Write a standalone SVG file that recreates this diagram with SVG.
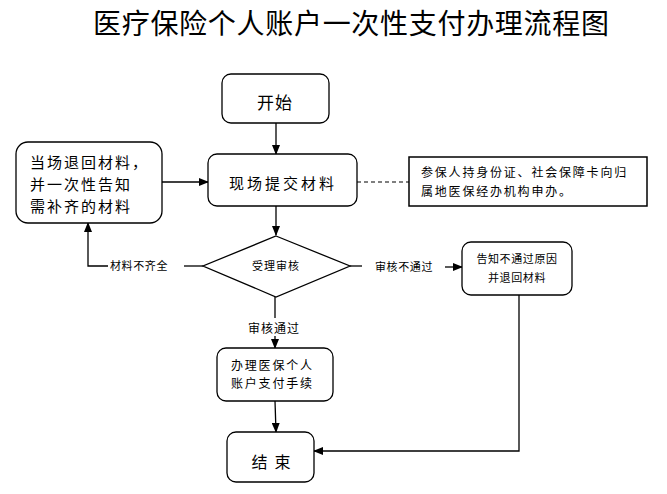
<svg xmlns="http://www.w3.org/2000/svg" width="667" height="494" viewBox="0 0 667 494">
<defs>
<marker id="arr" markerWidth="10" markerHeight="8" refX="9" refY="4" orient="auto" markerUnits="userSpaceOnUse">
<path d="M0,0 L10,4 L0,8 Z" fill="#000"/>
</marker>
<style>
.box{fill:#fff;stroke:#000;stroke-width:1.3}
.ln{fill:none;stroke:#000;stroke-width:1.3}
.dash{fill:none;stroke:#000;stroke-width:1.2;stroke-dasharray:4,3}
text{font-family:"Noto Sans CJK SC","Noto Sans",sans-serif;fill:#000}
.t15{font-size:15px;letter-spacing:2px}
.t12{font-size:12px;letter-spacing:1.8px}
.t11{font-size:11px;letter-spacing:0.6px}
</style>
</defs>
<rect width="667" height="494" fill="#fff"/>
<text x="93" y="34" font-size="28" textLength="516" lengthAdjust="spacing">医疗保险个人账户一次性支付办理流程图</text>

<g id="connectors">
<line class="ln" x1="276" y1="123" x2="276" y2="154" marker-end="url(#arr)"/>
<line class="ln" x1="276" y1="206" x2="276" y2="235" marker-end="url(#arr)"/>
<line class="ln" x1="162" y1="182" x2="208" y2="182" marker-end="url(#arr)"/>
<line class="dash" x1="357" y1="182" x2="409" y2="182"/>
<line class="ln" x1="203" y1="266" x2="184" y2="266"/>
<polyline class="ln" points="108,266 88,266 88,223" marker-end="url(#arr)"/>
<line class="ln" x1="350" y1="266" x2="362" y2="266"/>
<line class="ln" x1="445" y1="267" x2="462" y2="267" marker-end="url(#arr)"/>
<line class="ln" x1="275" y1="297" x2="275" y2="318"/>
<line class="ln" x1="275" y1="336" x2="275" y2="348" marker-end="url(#arr)"/>
<line class="ln" x1="275" y1="401" x2="276" y2="432" marker-end="url(#arr)"/>
<polyline class="ln" points="519,295 519,451 314,451" marker-end="url(#arr)"/>
<text class="t11" x="110" y="270">材料不齐全</text>
<text class="t11" x="375" y="271">审核不通过</text>
<text class="t12" x="248" y="333" style="letter-spacing:1px">审核通过</text>
</g>

<g id="start">
<rect class="box" x="222" y="74" width="107" height="49" rx="9"/>
<text x="275" y="109" font-size="17" text-anchor="middle" letter-spacing="1">开始</text>
</g>

<g id="submit">
<rect class="box" x="208" y="154" width="149" height="52" rx="9"/>
<text class="t15" x="229" y="189" style="letter-spacing:3px">现场提交材料</text>
</g>

<g id="return">
<rect class="box" x="16" y="142" width="146" height="81" rx="12"/>
<text class="t15" x="30" y="168">当场退回材料，</text>
<text class="t15" x="30" y="190">并一次性告知</text>
<text class="t15" x="30" y="212">需补齐的材料</text>
</g>

<g id="note">
<rect class="box" x="409" y="157" width="238" height="49" style="stroke-width:1.5"/>
<text class="t12" x="421" y="177">参保人持身份证、社会保障卡向归</text>
<text class="t12" x="421" y="196">属地医保经办机构申办。</text>
</g>

<g id="review">
<polygon class="box" points="276,236 350,266 276,297 203,266"/>
<text class="t11" x="276" y="270" text-anchor="middle" style="letter-spacing:1px">受理审核</text>
</g>

<g id="reject">
<rect class="box" x="462" y="242" width="110" height="53" rx="9"/>
<text class="t11" x="517" y="263" text-anchor="middle">告知不通过原因</text>
<text class="t11" x="517" y="282" text-anchor="middle">并退回材料</text>
</g>

<g id="process">
<rect class="box" x="217" y="348" width="116" height="53" rx="9"/>
<text x="231" y="370" font-size="12" letter-spacing="1.8">办理医保个人</text>
<text x="231" y="388" font-size="12" letter-spacing="1.8">账户支付手续</text>
</g>

<g id="end">
<rect class="box" x="227" y="432" width="87" height="50" rx="9"/>
<text x="271" y="468" font-size="16" text-anchor="middle" xml:space="preserve">结  束</text>
</g>
</svg>
